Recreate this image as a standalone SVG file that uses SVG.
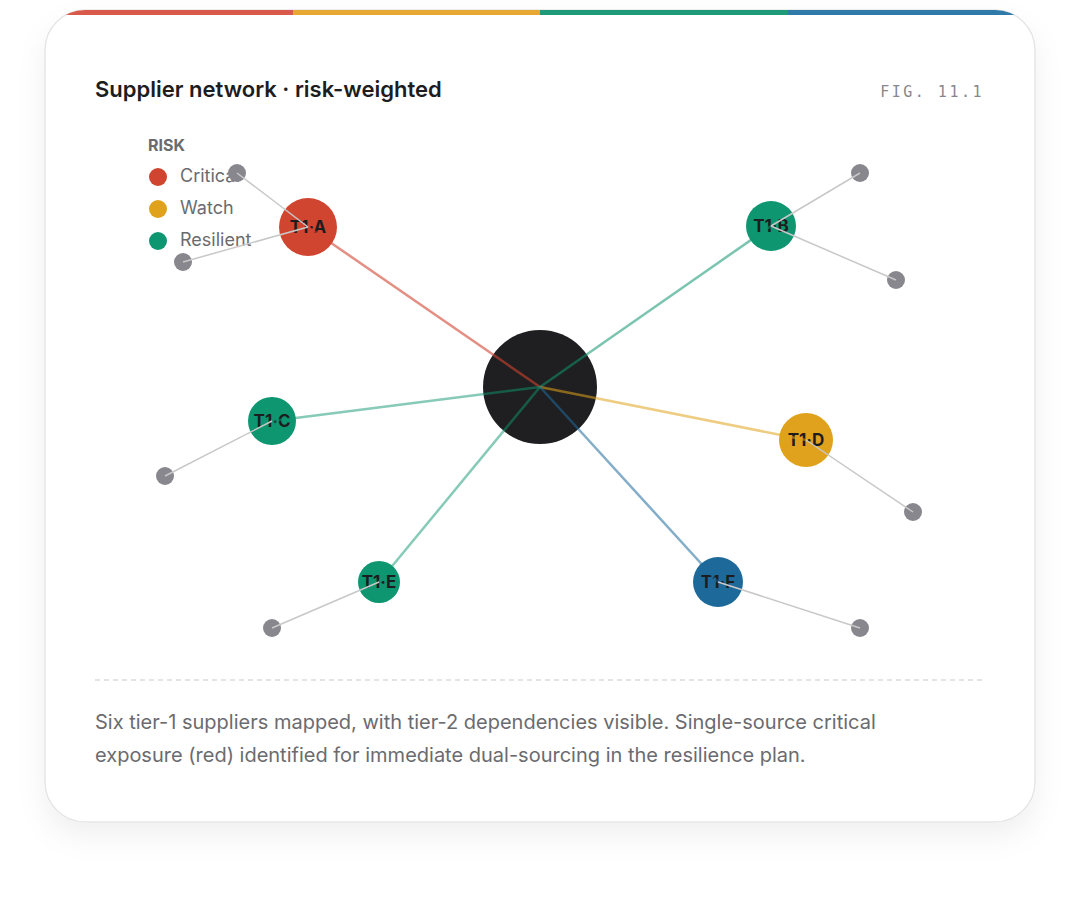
<svg xmlns="http://www.w3.org/2000/svg" width="1080" height="902" viewBox="0 0 1080 902">
<defs>
<filter id="sh" x="-10%" y="-10%" width="120%" height="130%"><feDropShadow dx="0" dy="14" stdDeviation="14" flood-color="#000" flood-opacity="0.06"/></filter>
<clipPath id="cc"><rect x="45" y="10" width="990" height="812" rx="40"/></clipPath>
<style>
.lbl{font-family:Inter,"Liberation Sans",sans-serif;font-weight:700;font-size:17px;fill:#1d1d1f;text-anchor:middle}
.t2{fill:#88878d}
.e2{stroke:#c8c8c8;stroke-width:1.5;fill:none}
.leg{font-family:Inter,"Liberation Sans",sans-serif;font-size:18px;fill:#6b6b6f}
.cap{font-family:Inter,"Liberation Sans",sans-serif;font-size:20px;fill:#6b6b6f}
</style>
</defs>
<rect width="1080" height="902" fill="#fff"/>
<rect x="45" y="10" width="990" height="812" rx="40" fill="#fff" stroke="#e6e6e8" stroke-width="1.5" filter="url(#sh)"/>
<g clip-path="url(#cc)">
<rect x="45" y="10" width="248" height="5" fill="#d95a4a"/>
<rect x="293" y="10" width="247" height="5" fill="#e6a832"/>
<rect x="540" y="10" width="248" height="5" fill="#1f9a78"/>
<rect x="788" y="10" width="247" height="5" fill="#2f7aa8"/>
</g>
<text x="95" y="97" font-family="Inter,'Liberation Sans',sans-serif" font-weight="600" font-size="22" fill="#1d1d1f">Supplier network · risk-weighted</text>
<text x="984" y="97" text-anchor="end" font-family="'DejaVu Sans Mono','Liberation Mono',monospace" font-size="15" letter-spacing="2.5" fill="#88878d">FIG. 11.1</text>
<g id="legend">
<text x="148" y="151" font-family="Inter,'Liberation Sans',sans-serif" font-weight="700" font-size="16" fill="#6b6b6f">RISK</text>
<circle cx="158" cy="177" r="9" fill="#d04530"/><text class="leg" x="180" y="182">Critical</text>
<circle cx="158" cy="209" r="9" fill="#e0a21c"/><text class="leg" x="180" y="214">Watch</text>
<circle cx="158" cy="241" r="9" fill="#0e9670"/><text class="leg" x="180" y="246">Resilient</text>
</g>
<g id="hub"><circle cx="540" cy="387" r="57" fill="#1f1f21"/></g>
<g id="t1a"><circle cx="308" cy="227" r="29" fill="#d04530"/><text class="lbl" x="308" y="233">T1·A</text></g>
<g id="t1b"><circle cx="771" cy="226" r="25" fill="#0e9670"/><text class="lbl" x="771" y="232">T1·B</text></g>
<g id="t1c"><circle cx="272" cy="421" r="24" fill="#0e9670"/><text class="lbl" x="272" y="427">T1·C</text></g>
<g id="t1d"><circle cx="806" cy="440" r="27" fill="#e0a21c"/><text class="lbl" x="806" y="446">T1·D</text></g>
<g id="t1e"><circle cx="379" cy="582" r="21" fill="#0e9670"/><text class="lbl" x="379" y="588">T1·E</text></g>
<g id="t1f"><circle cx="718" cy="582" r="25" fill="#1d6a9a"/><text class="lbl" x="718" y="588">T1·F</text></g>
<g id="tier2">
<circle class="t2" cx="237" cy="173" r="9"/><circle class="t2" cx="183" cy="262" r="9"/>
<circle class="t2" cx="860" cy="173" r="9"/><circle class="t2" cx="896" cy="280" r="9"/>
<circle class="t2" cx="165" cy="476" r="9"/><circle class="t2" cx="913" cy="512" r="9"/>
<circle class="t2" cx="272" cy="628" r="9"/><circle class="t2" cx="860" cy="628" r="9"/>
</g>
<g id="connectors" stroke-width="2.5" fill="none">
<line x1="540" y1="387" x2="308" y2="227" stroke="#d04530" stroke-opacity="0.6"/>
<line x1="540" y1="387" x2="771" y2="226" stroke="#0e9670" stroke-opacity="0.55"/>
<line x1="540" y1="387" x2="272" y2="421" stroke="#0e9670" stroke-opacity="0.5"/>
<line x1="540" y1="387" x2="806" y2="440" stroke="#e0a21c" stroke-opacity="0.55"/>
<line x1="540" y1="387" x2="379" y2="582" stroke="#0e9670" stroke-opacity="0.5"/>
<line x1="540" y1="387" x2="718" y2="582" stroke="#1d6a9a" stroke-opacity="0.55"/>
<line class="e2" x1="308" y1="227" x2="237" y2="173"/><line class="e2" x1="308" y1="227" x2="183" y2="262"/>
<line class="e2" x1="771" y1="226" x2="860" y2="173"/><line class="e2" x1="771" y1="226" x2="896" y2="280"/>
<line class="e2" x1="272" y1="421" x2="165" y2="476"/><line class="e2" x1="806" y1="440" x2="913" y2="512"/>
<line class="e2" x1="379" y1="582" x2="272" y2="628"/><line class="e2" x1="718" y1="582" x2="860" y2="628"/>
</g>
<line x1="95" y1="680" x2="985" y2="680" stroke="#dcdcde" stroke-width="1.5" stroke-dasharray="5 4"/>
<text class="cap" x="95" y="729">Six tier-1 suppliers mapped, with tier-2 dependencies visible. Single-source critical</text>
<text class="cap" x="95" y="762">exposure (red) identified for immediate dual-sourcing in the resilience plan.</text>
</svg>
